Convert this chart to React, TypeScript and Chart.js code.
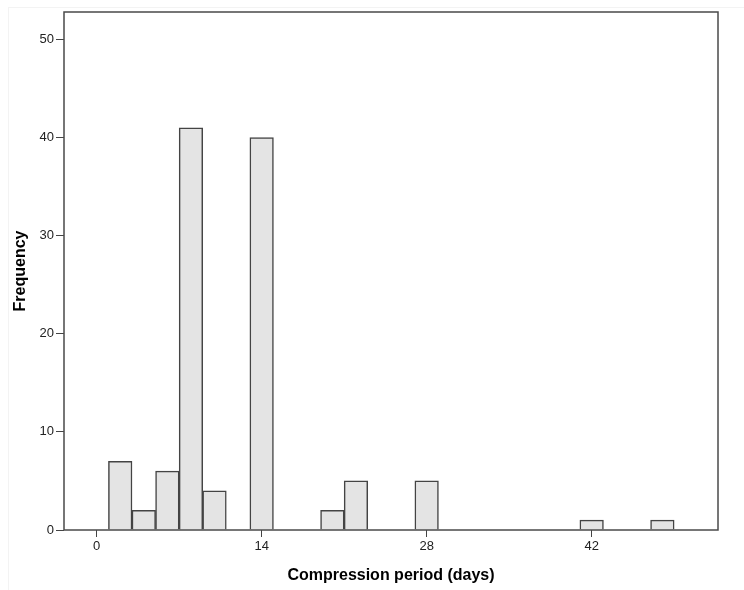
import React, { useEffect, useRef } from "react";
import { Chart, registerables } from "chart.js";

Chart.register(...registerables);

const binStarts = [1, 3, 5, 7, 9, 13, 19, 21, 27, 41, 47];
const binWidth = 2;
const frequencies = [7, 2, 6, 41, 4, 40, 2, 5, 5, 1, 1];
const xTickValues = [0, 14, 28, 42];
const yTickValues = [0, 10, 20, 30, 40, 50];
const xTitle = "Compression period (days)";
const yTitle = "Frequency";

const FONT = "'Liberation Sans', Arial, Helvetica, sans-serif";

const framePlugin = {
  id: "frameAndTitles",
  afterDraw(chart: any) {
    const { ctx, chartArea } = chart;
    ctx.save();
    ctx.strokeStyle = "#4a4a4a";
    ctx.lineWidth = 1.5;
    ctx.strokeRect(chartArea.left, chartArea.top, chartArea.right - chartArea.left, chartArea.bottom - chartArea.top);
    ctx.fillStyle = "#000";
    ctx.font = `bold 16px ${FONT}`;
    ctx.textAlign = "center";
    ctx.textBaseline = "middle";
    ctx.fillText(xTitle, (chartArea.left + chartArea.right) / 2, 576);
    ctx.translate(21, (chartArea.top + chartArea.bottom) / 2);
    ctx.rotate(-Math.PI / 2);
    ctx.fillText(yTitle, 0, 0);
    ctx.restore();
  },
};

export default function App() {
  const ref = useRef<HTMLCanvasElement | null>(null);
  useEffect(() => {
    if (!ref.current) return;
    const data = binStarts.map((s, i) => ({ x: s + binWidth / 2, y: frequencies[i] }));
    const chart = new Chart(ref.current, {
      type: "bar",
      data: {
        datasets: [
          {
            data,
            backgroundColor: "#e4e4e4",
            borderColor: "#444",
            borderWidth: 1.5,
            barPercentage: 1,
            categoryPercentage: 1,
          } as any,
        ],
      },
      options: {
        responsive: false,
        animation: false,
        layout: { padding: { top: 12, right: 26, left: 0, bottom: 0 } },
        plugins: { legend: { display: false }, tooltip: { enabled: false } },
        scales: {
          x: {
            type: "linear",
            min: -2.77,
            max: 52.72,
            offset: false,
            afterBuildTicks: (scale: any) => {
              scale.ticks = xTickValues.map((v) => ({ value: v }));
            },
            afterFit: (scale: any) => {
              scale.height = 60;
            },
            ticks: { autoSkip: false, color: "#222", font: { family: FONT, size: 13 }, padding: 2, maxRotation: 0 },
            grid: { offset: false, drawOnChartArea: false, drawTicks: true, tickLength: 7, color: "#444" },
            border: { display: false },
          },
          y: {
            type: "linear",
            min: 0,
            max: 52.8,
            afterBuildTicks: (scale: any) => {
              scale.ticks = yTickValues.map((v) => ({ value: v }));
            },
            afterFit: (scale: any) => {
              scale.width = 64;
            },
            ticks: { autoSkip: false, color: "#222", font: { family: FONT, size: 13 }, padding: 2 },
            grid: { offset: false, drawOnChartArea: false, drawTicks: true, tickLength: 8, color: "#444" },
            border: { display: false },
          },
        },
      } as any,
      plugins: [framePlugin],
    });
    return () => chart.destroy();
  }, []);
  return (
    <div style={{ position: "absolute", left: 0, top: 0, width: 744, height: 590, background: "#fff" }}>
      <div style={{ position: "absolute", left: 8, top: 7, right: 0, bottom: 0, borderLeft: "1px solid #f3f3f3", borderTop: "1px solid #f3f3f3" }} />
      <canvas ref={ref} width={744} height={590} style={{ position: "absolute", left: 0, top: 0 }} />
    </div>
  );
}
